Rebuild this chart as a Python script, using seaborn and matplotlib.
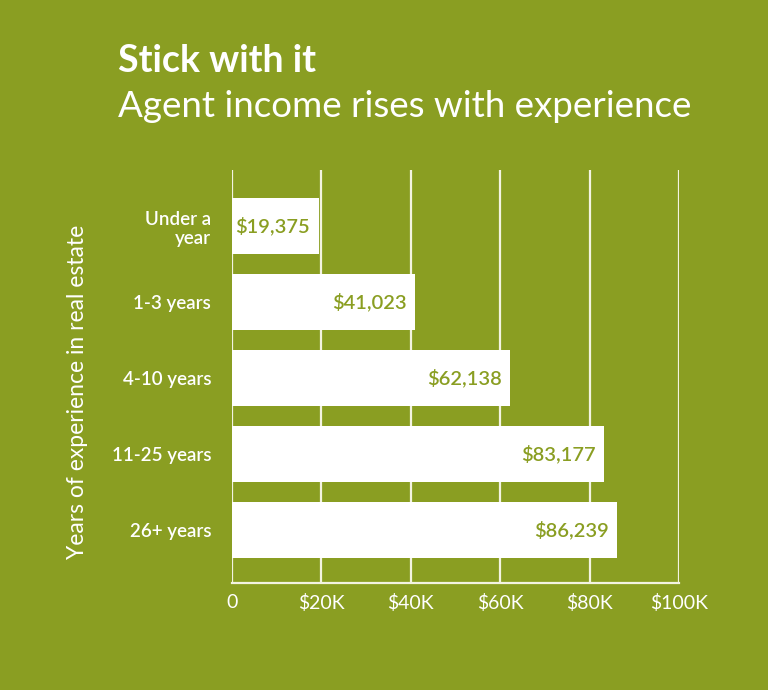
import matplotlib
matplotlib.use("Agg")
import matplotlib.pyplot as plt
import seaborn as sns
import pandas as pd

categories = ["Under a\nyear", "1-3 years", "4-10 years", "11-25 years", "26+ years"]
incomes = [19375, 41023, 62138, 83177, 86239]
value_labels = ["$19,375", "$41,023", "$62,138", "$83,177", "$86,239"]
xticks = [0, 20000, 40000, 60000, 80000, 100000]
xtick_labels = ["0", "$20K", "$40K", "$60K", "$80K", "$100K"]

BG = "#8a9e22"
GRID = "#f3f3e2"

sns.set_theme(style="white")
plt.rcParams["font.family"] = ["Lato", "DejaVu Sans"]

df = pd.DataFrame({"cat": categories, "income": incomes})

fig = plt.figure(figsize=(7.68, 6.9), dpi=100, facecolor=BG)
ax = fig.add_axes([232/768, 1 - 583/690, (679 - 232)/768, (583 - 170)/690])
ax.set_facecolor(BG)

sns.barplot(data=df, x="income", y="cat", color="white", width=0.74,
            saturation=1, ax=ax, zorder=3)
for p in ax.patches:
    p.set_edgecolor("none")

ax.set_xlim(0, 100000)
ax.set_ylim(4.70, -0.74)
ax.set_xticks(xticks)
ax.set_xticklabels(xtick_labels, color="white", fontsize=14)
ax.tick_params(axis="x", length=0, pad=8)
ax.tick_params(axis="y", length=0, pad=15, labelsize=13.5, labelcolor="white")
for lbl in ax.get_yticklabels():
    lbl.set_horizontalalignment("right")
    lbl.set_multialignment("right")
    lbl.set_fontweight("semibold")

for x in xticks:
    ax.axvline(x, color=GRID, lw=1.6, zorder=1)
for s in ["top", "right", "left"]:
    ax.spines[s].set_visible(False)
ax.spines["bottom"].set_color(GRID)
ax.spines["bottom"].set_linewidth(1.6)

for i, (v, t) in enumerate(zip(incomes, value_labels)):
    ax.annotate(t, xy=(v, i), xytext=(-6, 0), textcoords="offset points",
                ha="right", va="center", color=BG, fontsize=14.5,
                fontweight="semibold", zorder=4)

ax.set_xlabel("")
ax.set_ylabel("Years of experience in real estate", color="white", fontsize=16.5)
ax.yaxis.set_label_coords(-0.322, 0.462)

fig.text(118/768, 1 - 72/690, "Stick with it", color="white", fontsize=27,
         fontweight="bold", ha="left", va="baseline")
fig.text(118/768, 1 - 117/690, "Agent income rises with experience",
         color="white", fontsize=26.5, ha="left", va="baseline")

fig.savefig("out.png", dpi=100, facecolor=BG)
